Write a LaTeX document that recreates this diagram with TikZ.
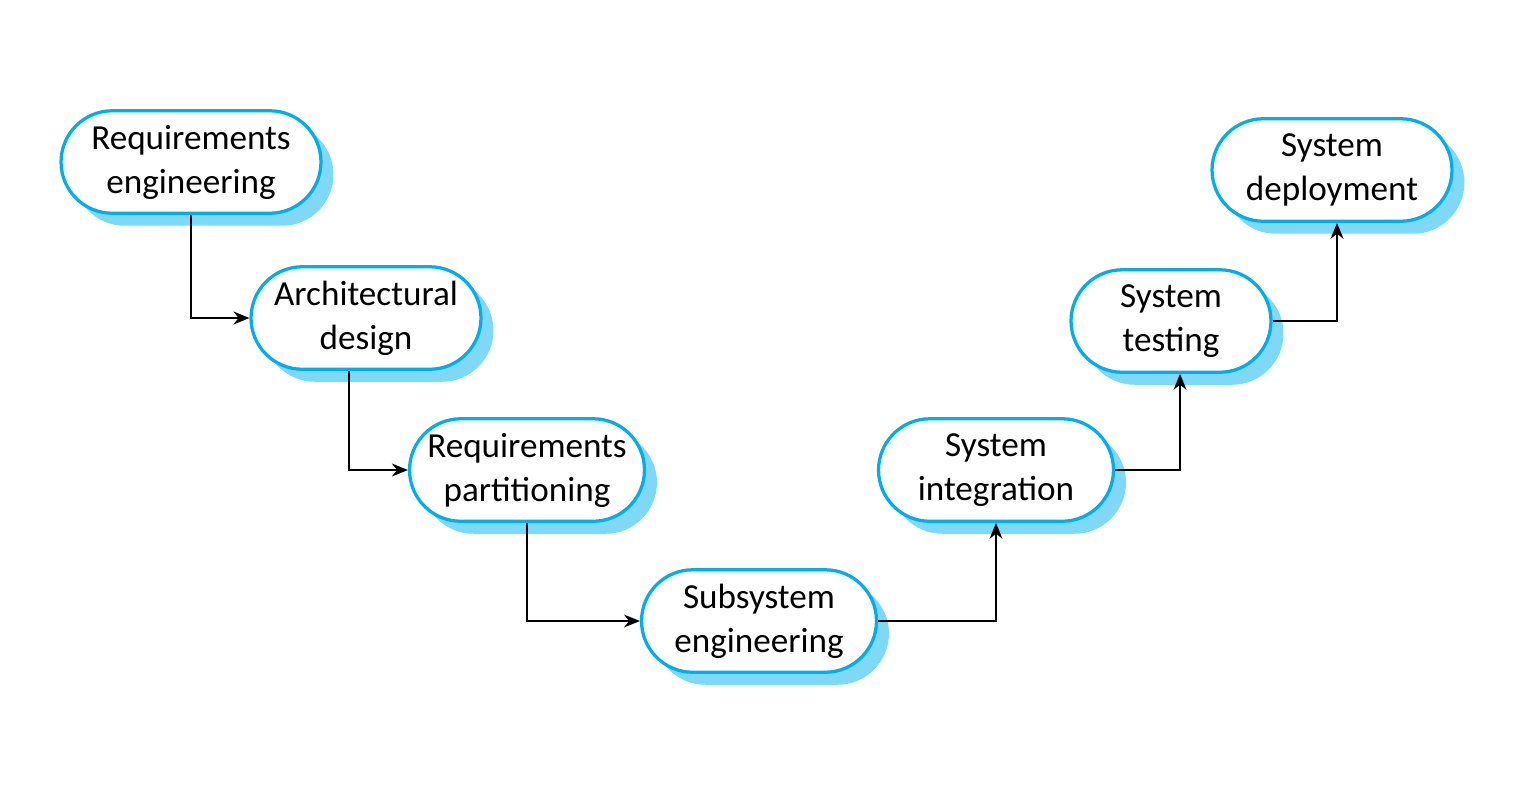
\documentclass[tikz,border=0pt]{standalone}
\usepackage{fontspec}
\setmainfont{Carlito}
\usetikzlibrary{shapes.misc,shadows,arrows.meta}
\definecolor{phaseline}{HTML}{00AEEF}
\definecolor{phaseshade}{HTML}{80D8F7}

\begin{document}
\begin{tikzpicture}[x=0.02cm,y=-0.02cm,
    phase/.style={rounded rectangle, draw=phaseline, line width=0.065cm,
      fill=white, align=center, minimum height=2.05cm, inner xsep=0pt,
      font=\fontsize{20}{25}\selectfont,
      drop shadow={shadow xshift=0.25cm, shadow yshift=-0.25cm,
        fill=phaseshade, opacity=1}},
    flow/.style={-{Stealth[length=0.32cm,width=0.26cm]}, line width=0.03cm}]
  \useasboundingbox (0,0) rectangle (1540,806);
  % the phases
  \node[phase, minimum width=5.2cm] (reqeng) at (191,162) {Requirements\\engineering};
  \node[phase, minimum width=4.6cm] (archdes) at (366,318) {Architectural\\design};
  \node[phase, minimum width=4.7cm] (reqpart) at (527,470) {Requirements\\partitioning};
  \node[phase, minimum width=4.7cm] (subeng) at (759,621) {Subsystem\\engineering};
  \node[phase, minimum width=4.7cm] (sysint) at (996,470) {System\\integration};
  \node[phase, minimum width=4.0cm] (systest) at (1171,321) {System\\testing};
  \node[phase, minimum width=4.8cm] (sysdep) at (1332,170) {System\\deployment};
  % the flow between them
  \draw[flow] (reqeng.south) |- (archdes.west);
  \draw[flow] ([xshift=-0.34cm]archdes.south) |- (reqpart.west);
  \draw[flow] (reqpart.south) |- (subeng.west);
  \draw[flow] (subeng.east) -| (sysint.south);
  \draw[flow] (sysint.east) -| ([xshift=0.18cm]systest.south);
  \draw[flow] (systest.east) -| ([xshift=0.1cm]sysdep.south);
\end{tikzpicture}
\end{document}
